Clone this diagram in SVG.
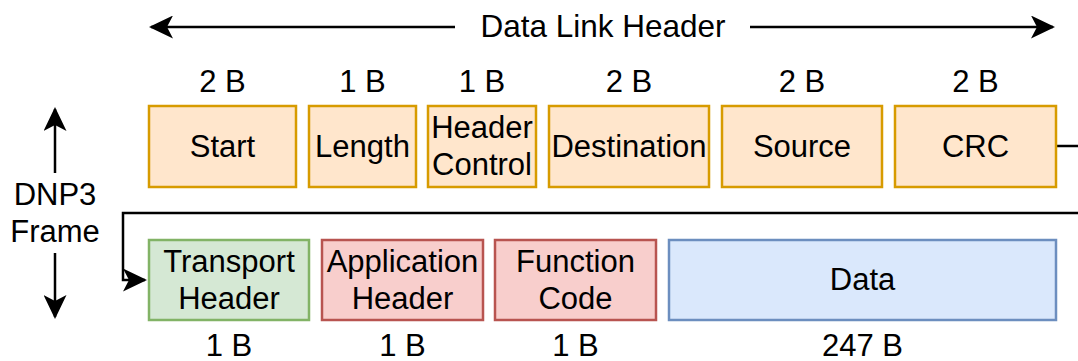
<svg xmlns="http://www.w3.org/2000/svg" width="1078" height="361" viewBox="0 0 1078 361">
<style>
text{font-family:"Liberation Sans",Arial,sans-serif;font-size:31px;fill:#000;text-anchor:middle}
.title{font-size:31.5px}
.o{fill:#ffe6cc;stroke:#d79b00;stroke-width:2.5}
.g{fill:#d5e8d4;stroke:#82b366;stroke-width:2.5}
.r{fill:#f8cecc;stroke:#b85450;stroke-width:2.5}
.b{fill:#dae8fc;stroke:#6c8ebf;stroke-width:2.5}
.ln{fill:none;stroke:#000;stroke-width:2.5}
</style>
<defs>
<marker id="arr" viewBox="0 0 24 23" refX="22" refY="11.5" markerWidth="24" markerHeight="23" orient="auto" markerUnits="userSpaceOnUse">
<path d="M0,0 L24,11.5 L0,23 L6,11.5 Z" fill="#000"/>
</marker>
</defs>
<g id="connectors">
<line class="ln" x1="455" y1="27" x2="151" y2="27" marker-end="url(#arr)"/>
<line class="ln" x1="750" y1="27" x2="1053" y2="27" marker-end="url(#arr)"/>
<line class="ln" x1="55" y1="173" x2="55" y2="109" marker-end="url(#arr)"/>
<line class="ln" x1="55" y1="253" x2="55" y2="317" marker-end="url(#arr)"/>
<path class="ln" d="M1056,146 H1078"/>
<path class="ln" d="M1078,213 H123 V280 H145" marker-end="url(#arr)"/>
</g>
<g id="title"><text class="title" x="603" y="37">Data Link Header</text></g>
<g id="frame-label"><text x="55" y="205">DNP3</text><text x="55" y="242">Frame</text></g>
<g id="start"><rect class="o" x="149" y="106" width="147" height="81"/><text x="222.5" y="157">Start</text><text x="222.5" y="92">2 B</text></g>
<g id="length"><rect class="o" x="309" y="106" width="107" height="81"/><text x="362.5" y="157">Length</text><text x="362.5" y="92">1 B</text></g>
<g id="header-control"><rect class="o" x="428" y="106" width="108" height="81"/><text x="482" y="138">Header</text><text x="482" y="175">Control</text><text x="482" y="92">1 B</text></g>
<g id="destination"><rect class="o" x="549" y="106" width="160" height="81"/><text x="629" y="157">Destination</text><text x="629" y="92">2 B</text></g>
<g id="source"><rect class="o" x="722" y="106" width="160" height="81"/><text x="802" y="157">Source</text><text x="802" y="92">2 B</text></g>
<g id="crc"><rect class="o" x="895" y="106" width="161" height="81"/><text x="975.5" y="157">CRC</text><text x="975.5" y="92">2 B</text></g>
<g id="transport"><rect class="g" x="149" y="240" width="160" height="80"/><text x="229" y="272">Transport</text><text x="229" y="309">Header</text><text x="229" y="356">1 B</text></g>
<g id="application"><rect class="r" x="322" y="240" width="161" height="80"/><text x="402.5" y="272">Application</text><text x="402.5" y="309">Header</text><text x="402.5" y="356">1 B</text></g>
<g id="function-code"><rect class="r" x="495" y="240" width="161" height="80"/><text x="575.5" y="272">Function</text><text x="575.5" y="309">Code</text><text x="575.5" y="356">1 B</text></g>
<g id="data"><rect class="b" x="669" y="240" width="387" height="80"/><text x="862.5" y="290">Data</text><text x="862.5" y="356">247 B</text></g>
</svg>
